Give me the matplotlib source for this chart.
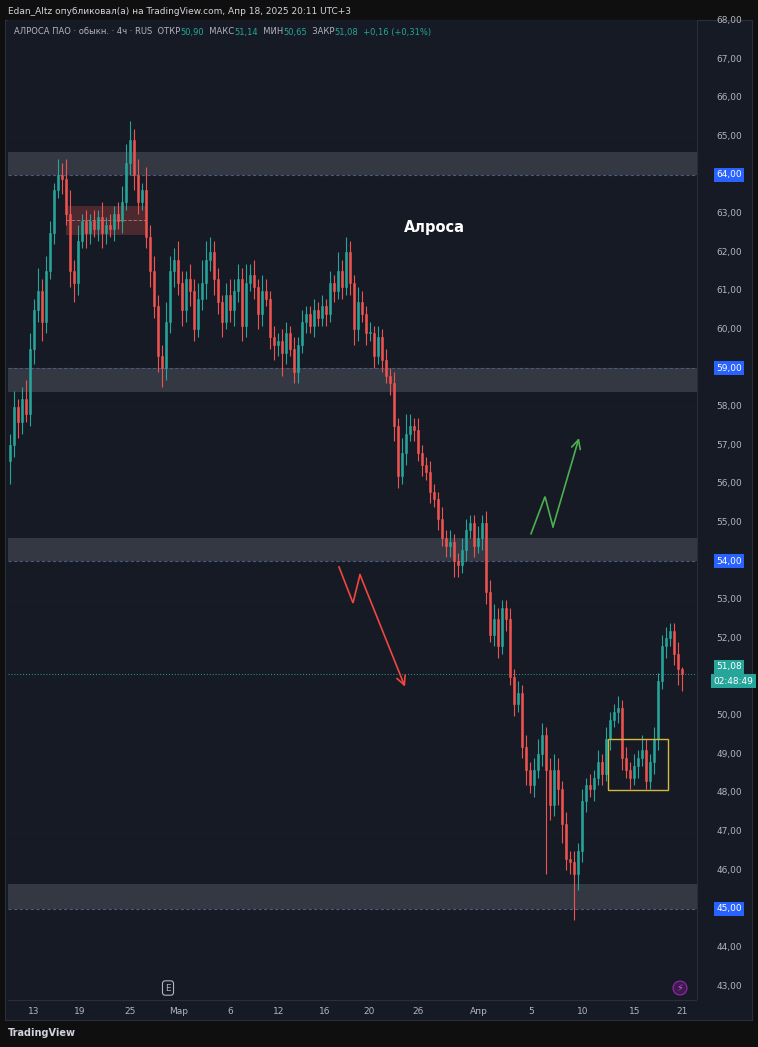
import matplotlib
matplotlib.use("Agg")
import matplotlib.pyplot as plt
from matplotlib.patches import Rectangle

plt.rcParams["font.family"] = ["DejaVu Sans"]

# ── данные: цена закрытия 4ч свечей ──
closes = [
    57.0, 58.0, 57.6, 58.2, 57.8, 59.5, 60.5, 61.0, 60.2, 61.5,
    62.5, 63.6, 64.0, 63.9, 63.0, 61.5, 61.2, 62.3, 62.8, 62.5,
    62.8, 62.6, 62.9, 62.5, 62.7, 62.6, 63.0, 62.8, 63.3, 64.3,
    64.9, 64.0, 63.3, 63.6, 62.4, 61.5, 60.6, 59.3, 59.0, 60.2,
    61.5, 61.8, 61.2, 60.5, 61.3, 61.0, 60.0, 60.8, 61.2, 61.8,
    62.0, 61.3, 60.7, 60.2, 60.9, 60.5, 61.0, 61.3, 60.1, 61.2,
    61.4, 61.1, 60.4, 61.0, 60.8, 59.8, 59.6, 59.7, 59.4, 59.9,
    59.5, 58.9, 59.6, 60.2, 60.4, 60.1, 60.5, 60.3, 60.6, 60.4,
    61.2, 61.0, 61.5, 61.1, 62.0, 61.2, 60.0, 60.7, 60.4, 59.9,
    59.9, 59.3, 59.8, 59.2, 58.8, 58.6, 57.5, 56.2, 56.8, 57.3,
    57.5, 57.4, 56.8, 56.5, 56.3, 55.8, 55.6, 55.1, 54.6, 54.4,
    54.5, 54.0, 53.9, 54.3, 54.8, 55.0, 54.4, 54.6, 55.0, 53.2,
    52.1, 52.5, 51.8, 52.8, 52.5, 51.0, 50.3, 50.6, 49.2, 48.6,
    48.2, 48.6, 49.0, 49.5, 48.6, 47.7, 48.6, 48.1, 47.2, 46.3,
    46.2, 45.9, 46.5, 47.8, 48.2, 48.1, 48.4, 48.8, 48.5, 49.4,
    49.9, 50.1, 50.2, 48.9, 48.6, 48.4, 48.7, 48.9, 49.1, 48.3,
    48.8, 49.4, 50.9, 51.8, 52.0, 52.2, 51.6, 51.2, 51.08,
]
first_open = 56.6
wick_up = [
    0.3, 0.4, 0.2, 0.3, 0.5, 0.4, 0.3, 0.6, 0.3, 0.4,
    0.3, 0.2, 0.4, 0.3, 0.5, 0.6, 0.3, 0.4, 0.2, 0.3,
    0.2, 0.3, 0.2, 0.4, 0.2, 0.3, 0.2, 0.3, 0.4, 0.5,
    0.5, 0.3, 0.4, 0.2, 0.6, 0.3, 0.4, 0.3, 0.3, 0.5,
    0.4, 0.3, 0.5, 0.3, 0.2, 0.4, 0.3, 0.4, 0.6, 0.5,
    0.4, 0.3, 0.3, 0.2, 0.3, 0.4, 0.3, 0.4, 0.3, 0.5,
    0.3, 0.4, 0.2, 0.4, 0.3, 0.2, 0.3, 0.2, 0.3, 0.3,
    0.2, 0.3, 0.2, 0.3, 0.2, 0.2, 0.3, 0.2, 0.3, 0.2,
    0.3, 0.2, 0.5, 0.3, 0.4, 0.3, 0.2, 0.4, 0.3, 0.2,
    0.3, 0.2, 0.3, 0.2, 0.3, 0.2, 0.3, 0.2, 0.4, 0.5,
    0.3, 0.2, 0.3, 0.2, 0.2, 0.3, 0.2, 0.2, 0.3, 0.2,
    0.3, 0.2, 0.2, 0.3, 0.3, 0.2, 0.2, 0.3, 0.2, 0.3,
    0.3, 0.4, 0.3, 0.2, 0.2, 0.3, 0.2, 0.3, 0.2, 0.3,
    0.2, 0.3, 0.4, 0.3, 0.2, 0.3, 0.4, 0.3, 0.2, 0.3,
    0.2, 0.3, 0.2, 0.3, 0.2, 0.3, 0.2, 0.3, 0.2, 0.3,
    0.2, 0.2, 0.3, 0.2, 0.3, 0.2, 0.3, 0.2, 0.4, 0.3,
    0.2, 0.3, 0.2, 0.3, 0.3, 0.2, 0.2, 0.3, 0.06,
]
wick_dn = [
    0.6, 0.3, 0.4, 0.3, 0.2, 0.3, 0.4, 0.3, 0.5, 0.3,
    0.2, 0.3, 0.2, 0.4, 0.3, 0.4, 0.5, 0.3, 0.2, 0.4,
    0.3, 0.2, 0.3, 0.4, 0.3, 0.2, 0.3, 0.2, 0.3, 0.2,
    0.3, 0.4, 0.3, 0.2, 0.3, 0.4, 0.3, 0.4, 0.5, 0.3,
    0.3, 0.4, 0.3, 0.4, 0.3, 0.4, 0.3, 0.2, 0.3, 0.4,
    0.3, 0.4, 0.3, 0.4, 0.2, 0.3, 0.4, 0.3, 0.4, 0.3,
    0.2, 0.3, 0.4, 0.3, 0.2, 0.3, 0.4, 0.3, 0.6, 0.3,
    0.2, 0.3, 0.3, 0.2, 0.3, 0.2, 0.3, 0.2, 0.2, 0.3,
    0.2, 0.3, 0.2, 0.3, 0.2, 0.3, 0.4, 0.3, 0.2, 0.3,
    0.2, 0.3, 0.2, 0.3, 0.2, 0.3, 0.4, 0.3, 0.2, 0.3,
    0.2, 0.3, 0.2, 0.3, 0.2, 0.3, 0.2, 0.3, 0.2, 0.3,
    0.3, 0.4, 0.3, 0.2, 0.3, 0.2, 0.3, 0.2, 0.3, 0.3,
    0.2, 0.3, 0.3, 0.2, 0.3, 0.2, 0.3, 0.2, 0.3, 0.4,
    0.2, 0.3, 0.2, 0.3, 2.7, 0.4, 0.3, 0.4, 0.5, 0.3,
    0.3, 1.2, 0.4, 0.3, 0.3, 0.2, 0.3, 0.2, 0.3, 0.2,
    0.3, 0.2, 0.3, 0.3, 0.2, 0.3, 0.2, 0.3, 0.2, 0.2,
    0.2, 0.3, 0.3, 0.2, 0.3, 0.2, 0.3, 0.4, 0.43,
]

# уровни (зоны): низ, верх
zones = [(64.0, 64.6), (58.37, 59.0), (54.0, 54.6), (45.0, 45.65)]
zone_labels = [64.0, 59.0, 54.0, 45.0]
last_price = 51.08

date_labels = ["13", "19", "25", "Мар", "6", "12", "16", "20", "26", "Апр", "5", "10", "15", "21"]
date_pos = [6, 17.5, 30, 42.25, 55, 67.25, 78.75, 89.75, 102, 117.25, 130.25, 143.25, 156.25, 168]

price_ticks = list(range(43, 69))

red_path_x = [82.25, 85.75, 87.5, 98.75]
red_path_y = [53.85, 52.92, 53.65, 50.75]
green_path_x = [130.25, 133.75, 135.75, 142.25]
green_path_y = [54.71, 55.67, 54.89, 57.19]

BG = "#161a25"
UP, DN = "#26a69a", "#ef5350"
TXT = "#b2b5be"

W, H = 758, 1047
fig = plt.figure(figsize=(W / 100, H / 100), dpi=100, facecolor="#0f0f0f")


def box(x0, y0, x1, y1):
    return [x0 / W, 1 - y1 / H, (x1 - x0) / W, (y1 - y0) / H]


# фон панели
bg = fig.add_axes(box(5, 20, 752, 1020))
bg.set_facecolor(BG)
bg.set_xticks([]); bg.set_yticks([])
for s in bg.spines.values():
    s.set_color("#2a2e39")

ax = fig.add_axes(box(8, 20, 697, 1000))
ax.set_facecolor(BG)
ax.set_xlim(-0.5, 171.75)
ax.set_ylim(42.64, 68.01)
ax.set_xticks([]); ax.set_yticks([])
for s in ax.spines.values():
    s.set_visible(False)
for y in price_ticks:
    ax.axhline(y, color="#1a1e29", lw=0.5, zorder=0)

for lo, hi in zones:
    ax.axhspan(lo, hi, color="#363a45", alpha=0.95, lw=0, zorder=1)
for lv in zone_labels:
    ax.axhline(lv, color="#4a5a7a", lw=0.8, ls=(0, (3, 2)), zorder=1)

ax.add_patch(Rectangle((14, 62.45), 20, 0.75, facecolor="#ef5350", alpha=0.25, lw=0, zorder=1))
ax.plot([14, 34], [62.82, 62.82], color="#9a7070", lw=0.7, ls="--", zorder=1)

opens = [first_open] + closes[:-1]
for i, (o, c, wu, wd) in enumerate(zip(opens, closes, wick_up, wick_dn)):
    col = UP if c >= o else DN
    ax.vlines(i, min(o, c) - wd, max(o, c) + wu, color=col, lw=0.8, zorder=3)
    ax.add_patch(Rectangle((i - 0.35, min(o, c)), 0.7, max(abs(c - o), 0.04),
                           facecolor=col, edgecolor=col, lw=0.4, zorder=4))

ax.axhline(last_price, color=UP, lw=0.7, ls=(0, (1, 2)), zorder=2)

ax.add_patch(Rectangle((149.5, 48.08), 15, 1.32, facecolor="none", edgecolor="#d4b93a", lw=1, zorder=5))

# стрелки-сценарии
for px, py, col in [(red_path_x, red_path_y, "#f0473f"), (green_path_x, green_path_y, "#4caf50")]:
    ax.plot(px[:-1], py[:-1], color=col, lw=1.2, zorder=5, solid_joinstyle="miter")
    ax.annotate("", xy=(px[-1], py[-1]), xytext=(px[-2], py[-2]),
                arrowprops=dict(arrowstyle="->", color=col, lw=1.2, mutation_scale=16,
                                shrinkA=0, shrinkB=0), zorder=5)

ax.text(106, 62.63, "Алроса", color="white", fontsize=10.5, fontweight="bold", ha="center", va="center")

# правая шкала
ra = fig.add_axes(box(697, 20, 752, 1000))
ra.set_facecolor(BG)
ra.set_xlim(0, 1); ra.set_ylim(42.64, 68.01)
ra.axis("off")
ra.axvline(0, color="#2a2e39", lw=0.8)
special = set(zone_labels) | {51.0, 52.0}
for p in price_ticks:
    if p in special:
        continue
    ra.text(0.35, p, f"{p},00", color=TXT, fontsize=6.5, va="center", ha="left")
for lv in zone_labels:
    ra.text(0.35, lv, f"{lv:.2f}".replace(".", ","), color="white", fontsize=6.5, va="center",
            ha="left", bbox=dict(boxstyle="square,pad=0.25", fc="#2962ff", ec="none"))
ra.text(0.35, 52.0, "52,00", color=TXT, fontsize=6.5, va="center", ha="left")
ra.text(0.35, last_price + 0.07, "51,08", color="white", fontsize=6.5, va="bottom", ha="left",
        bbox=dict(boxstyle="square,pad=0.25", fc=UP, ec="none"))
ra.text(0.3, last_price - 0.07, "02:48:49", color="white", fontsize=6.5, va="top", ha="left",
        bbox=dict(boxstyle="square,pad=0.25", fc=UP, ec="none"))

# нижняя шкала
ba = fig.add_axes(box(8, 1000, 697, 1020))
ba.set_facecolor(BG)
ba.set_xlim(-0.5, 171.75); ba.set_ylim(0, 1)
ba.axis("off")
ba.axhline(1, color="#2a2e39", lw=0.8)
for lab, x in zip(date_labels, date_pos):
    ba.text(x, 0.45, lab, color=TXT, fontsize=6.5, ha="center", va="center")
ax.text(39.5, 42.95, "E", color=TXT, fontsize=6.5, ha="center", va="center",
        bbox=dict(boxstyle="round,pad=0.3", fc=BG, ec=TXT, lw=0.8))
ax.text(167.5, 42.95, "⚡", color="#e040fb", fontsize=7, ha="center", va="center",
        bbox=dict(boxstyle="circle,pad=0.2", fc="#3a1d4a", ec="#9c27b0", lw=0.8))

# заголовки
fig.text(8 / W, 1 - 11 / H, "Edan_Altz опубликовал(а) на TradingView.com, Апр 18, 2025 20:11 UTC+3",
         color="#d1d4dc", fontsize=6.5, va="center")
y_h = 1 - 32 / H
parts = [("АЛРОСА ПАО · обыкн. · 4ч · RUS  ОТКР", TXT), ("50,90", UP), ("  МАКС", TXT), ("51,14", UP),
         ("  МИН", TXT), ("50,65", UP), ("  ЗАКР", TXT), ("51,08", UP), ("  +0,16 (+0,31%)", UP)]
fig.canvas.draw()
r = fig.canvas.get_renderer()
x_cur = 14 / W
for s, c in parts:
    t = fig.text(x_cur, y_h, s, color=c, fontsize=6, va="center")
    x_cur += t.get_window_extent(renderer=r).width / W
fig.text(8 / W, 1 - 1033 / H, "TradingView", color="#d1d4dc", fontsize=7, va="center", fontweight="bold")

fig.savefig("out.png", dpi=100, facecolor=fig.get_facecolor())
